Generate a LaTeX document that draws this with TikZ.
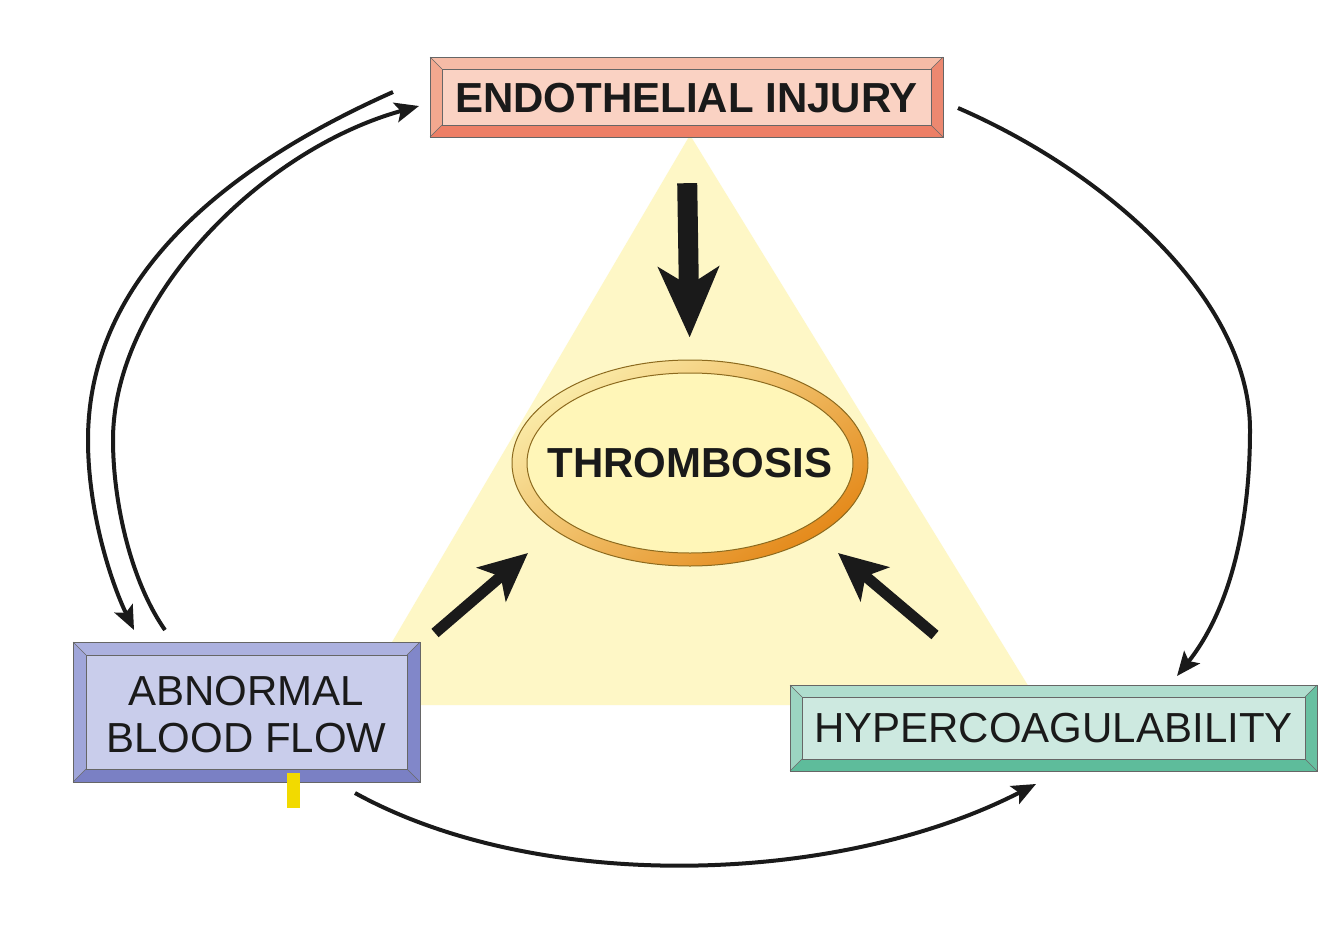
\documentclass[tikz,border=0pt]{standalone}
\usepackage{fontspec}
\setmainfont{Liberation Sans}
\usetikzlibrary{arrows.meta,shapes.geometric,calc}
\definecolor{triFill}{HTML}{FEF7C6}
\definecolor{endoFace}{HTML}{FAD2C3}
\definecolor{endoTop}{HTML}{F6BBA6}
\definecolor{endoLeft}{HTML}{F3A88F}
\definecolor{endoRight}{HTML}{EC8870}
\definecolor{endoBot}{HTML}{ED7F66}
\definecolor{abnFace}{HTML}{C9CDEB}
\definecolor{abnTop}{HTML}{ACB1DF}
\definecolor{abnLeft}{HTML}{A0A6DA}
\definecolor{abnRight}{HTML}{8187C9}
\definecolor{abnBot}{HTML}{7A80C4}
\definecolor{hypFace}{HTML}{CDE9E0}
\definecolor{hypTop}{HTML}{AFDDCE}
\definecolor{hypLeft}{HTML}{9CD4C1}
\definecolor{hypRight}{HTML}{68C0A1}
\definecolor{hypBot}{HTML}{5EBC9B}
\definecolor{ringLight}{HTML}{FAEBA8}
\definecolor{ringDark}{HTML}{E4891A}
\definecolor{innerFill}{HTML}{FFF6B8}
\definecolor{ringLine}{HTML}{8C6A1E}
\definecolor{tickYellow}{HTML}{F2DA00}
\definecolor{ink}{HTML}{1A1A1A}
\newcommand\bevbox[6]{%
  \fill[#6Face] (#1+#5,#2+#5) rectangle (#3-#5,#4-#5);
  \fill[#6Top] (#1,#2) -- (#3,#2) -- (#3-#5,#2+#5) -- (#1+#5,#2+#5) -- cycle;
  \fill[#6Bot] (#1,#4) -- (#3,#4) -- (#3-#5,#4-#5) -- (#1+#5,#4-#5) -- cycle;
  \fill[#6Left] (#1,#2) -- (#1+#5,#2+#5) -- (#1+#5,#4-#5) -- (#1,#4) -- cycle;
  \fill[#6Right] (#3,#2) -- (#3-#5,#2+#5) -- (#3-#5,#4-#5) -- (#3,#4) -- cycle;
  \draw[boxline] (#1,#2) rectangle (#3,#4);
  \draw[boxline,line width=0.6pt] (#1+#5,#2+#5) rectangle (#3-#5,#4-#5);
  \draw[boxline,line width=0.6pt] (#1,#2) -- (#1+#5,#2+#5) (#3,#2) -- (#3-#5,#2+#5)
    (#1,#4) -- (#1+#5,#4-#5) (#3,#4) -- (#3-#5,#4-#5);
}
\begin{document}
\begin{tikzpicture}[x=1pt,y=-1pt,
  boxline/.style={draw=black!60,line width=1pt},
  boxtext/.style={inner sep=0pt,text=ink,align=center},
  curve/.style={draw=ink,line width=4pt,-{Stealth[length=24pt,width=20pt,inset=5pt]}},
  bigdown/.style={draw=ink,line width=20pt,-{Stealth[length=70pt,width=60pt,inset=18pt]}},
  diag/.style={draw=ink,line width=11pt,-{Stealth[length=48pt,width=44pt,inset=12pt]}}]
\useasboundingbox (0,0) rectangle (1334,926);
\fill[white] (0,0) rectangle (1334,926);
% triangle
\fill[triFill] (690,135) -- (1040,705) -- (355,705) -- cycle;
% boxes
\bevbox{430}{57}{943}{137}{12}{endo}
\bevbox{73}{642}{420}{782}{13}{abn}
\bevbox{790}{685}{1317}{771}{12}{hyp}
\fill[tickYellow] (287,773) rectangle (300,808);
\node[boxtext,minimum width=513pt,minimum height=80pt,font=\fontsize{42}{47}\selectfont\bfseries] (endo) at (686.5,98) {ENDOTHELIAL INJURY};
\node[boxtext,minimum width=347pt,minimum height=140pt,font=\fontsize{42}{47}\selectfont] (abn) at (246.5,715) {ABNORMAL\\BLOOD FLOW};
\node[boxtext,minimum width=527pt,minimum height=86pt,font=\fontsize{42}{47}\selectfont] (hyp) at (1053.5,728) {HYPERCOAGULABILITY};
% thrombosis ellipse
\node[ellipse,minimum width=356pt,minimum height=206pt,inner sep=0pt,draw=ringLine,line width=1pt,
  top color=ringLight,bottom color=ringDark,shading angle=35] (thr) at (690,463) {};
\filldraw[fill=innerFill,draw=ringLine,line width=1pt] (thr.center) ellipse [x radius=163, y radius=90];
\node[boxtext,font=\fontsize{42}{47}\selectfont\bfseries] (thrtext) at (thr.center) {THROMBOSIS};
% coordinates for free ends
\coordinate (oL1) at (393,92);
\coordinate (oL2) at (134,630);
\coordinate (iL1) at (165,630);
\coordinate (iL2) at (419,106);
\coordinate (r1) at (958,108);
\coordinate (r2) at (1177,676);
\coordinate (b1) at (355,793);
\coordinate (b2) at (1036,784);
\coordinate (dA1) at (435,633);
\coordinate (dA2) at (528,553);
\coordinate (dB1) at (935,635);
\coordinate (dB2) at (838,553);
% curved connectors
\draw[curve] (oL1) .. controls (238,161) and (88,270) .. (88,440)
  .. controls (88,510) and (110,580) .. (oL2);
\draw[curve] (iL1) .. controls (130,580) and (113,500) .. (113,440)
  .. controls (113,300) and (260,150) .. (iL2);
\draw[curve] (r1) .. controls (1108,173) and (1250,300) .. (1250,430)
  .. controls (1250,530) and (1228,612) .. (r2);
\draw[curve] (b1) .. controls (540,895) and (840,885) .. (b2);
% thick arrows
\draw[bigdown,shorten <=45pt,shorten >=22pt] (endo.south) -- (thr.north);
\draw[diag] (dA1) -- (dA2);
\draw[diag] (dB1) -- (dB2);
\end{tikzpicture}
\end{document}
